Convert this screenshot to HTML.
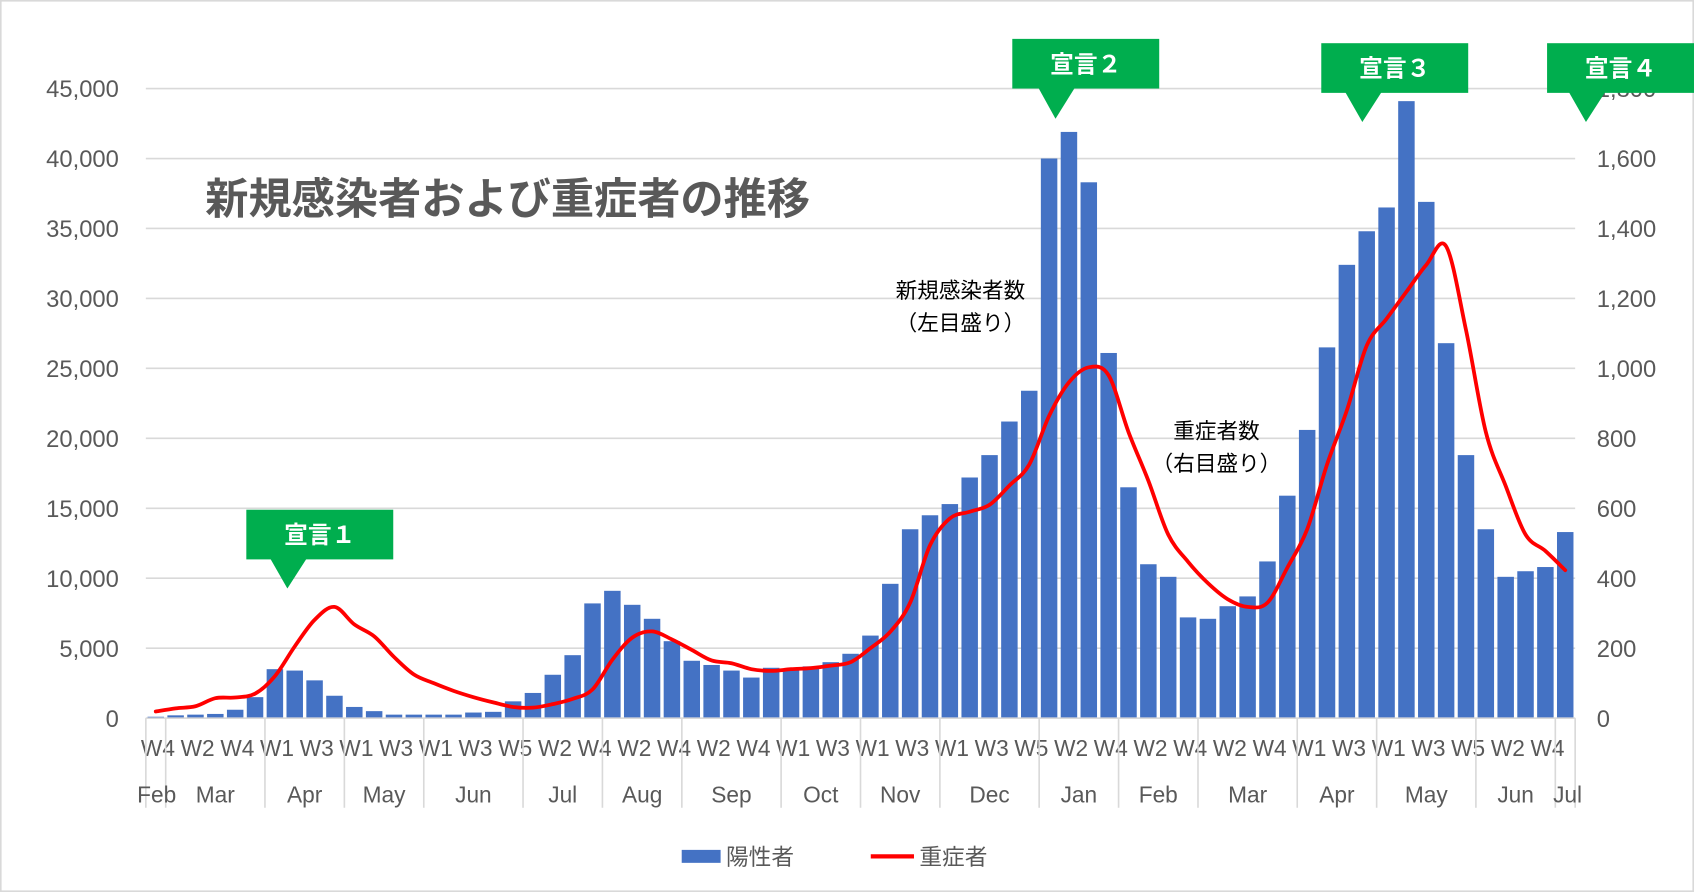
<!DOCTYPE html>
<html><head><meta charset="utf-8"><style>
html,body{margin:0;padding:0;background:#fff;}
svg{display:block;font-family:"Liberation Sans","Noto Sans CJK JP",sans-serif;}
</style></head><body>
<svg id="chart" width="1694" height="892" viewBox="0 0 1568 826" preserveAspectRatio="none" xmlns="http://www.w3.org/2000/svg">
<rect x="0.5" y="0.5" width="1567" height="825" fill="#fff" stroke="#d9d9d9" stroke-width="2"/>
<g id="grid"></g>
<g id="bars"></g>
<g id="line"></g>
<g id="axes"></g>
<text x="190" y="198" font-size="40" font-weight="bold" fill="#595959">新規感染者および重症者の推移</text>
<text x="889" y="276" font-size="20" fill="#000" text-anchor="middle">新規感染者数</text>
<text x="889" y="306" font-size="20" fill="#000" text-anchor="middle">（左目盛り）</text>
<text x="1126" y="406" font-size="20" fill="#000" text-anchor="middle">重症者数</text>
<text x="1126" y="436" font-size="20" fill="#000" text-anchor="middle">（右目盛り）</text>
<g id="callouts"></g>
<g>
<rect x="631" y="787" width="36" height="12" fill="#4472c4"/>
<text x="672" y="801" font-size="21" fill="#595959">陽性者</text>
<line x1="806" y1="793" x2="846" y2="793" stroke="#ff0000" stroke-width="4"/>
<text x="851" y="801" font-size="21" fill="#595959">重症者</text>
</g>
</svg>
<script>
const weekLabels=["W4","W1","W2","W3","W4","W5","W1","W2","W3","W4","W1","W2","W3","W4","W1","W2","W3","W4","W5","W1","W2","W3","W4","W1","W2","W3","W4","W1","W2","W3","W4","W5","W1","W2","W3","W4","W1","W2","W3","W4","W1","W2","W3","W4","W5","W1","W2","W3","W4","W1","W2","W3","W4","W1","W2","W3","W4","W5","W1","W2","W3","W4","W1","W2","W3","W4","W5","W1","W2","W3","W4","W1"];
const months=["Feb","Mar","Apr","May","Jun","Jul","Aug","Sep","Oct","Nov","Dec","Jan","Feb","Mar","Apr","May","Jun","Jul"];
const monthWeeks=[1,5,4,4,5,4,4,5,4,4,5,4,4,5,4,5,4,1];
const cases=[100,200,250,300,600,1500,3500,3400,2700,1600,800,500,250,250,250,250,400,450,1200,1800,3100,4500,8200,9100,8100,7100,5500,4100,3800,3400,2900,3600,3500,3700,4000,4600,5900,9600,13500,14500,15300,17200,18800,21200,23400,40000,41900,38300,26100,16500,11000,10100,7200,7100,8000,8700,11200,15900,20600,26500,32400,34800,36500,44100,36900,26800,18800,13500,10100,10500,10800,13300];
const severe=[19,28,34,57,59,70,120,205,281,318,268,234,175,125,100,78,60,45,32,30,40,55,82,167,230,248,225,195,165,157,140,135,140,143,150,160,200,247,330,494,571,590,610,665,725,864,960,1003,980,818,679,525,447,386,340,318,330,430,540,725,880,1065,1142,1219,1296,1349,1110,818,664,525,478,423];
const leftTicks=[0,5000,10000,15000,20000,25000,30000,35000,40000,45000];
const rightTicks=[0,200,400,600,800,1000,1200,1400,1600,1800];
const callouts=[["宣言１",228,472,266,545],["宣言２",937,36,977,110],["宣言３",1223,40,1261,113],["宣言４",1432,40,1468,113]];

const NS="http://www.w3.org/2000/svg";
const X0=135,X1=1458,Y0=665,YT=82;
const n=cases.length, step=(X1-X0)/n;
const xC=i=>X0+step*(i+0.5);
const yL=v=>Y0-(v/45000)*(Y0-YT);
const yR=v=>Y0-(v/1800)*(Y0-YT);
function mk(tag,attrs,parent,text){const e=document.createElementNS(NS,tag);for(const k in attrs)e.setAttribute(k,attrs[k]);if(text!==undefined)e.textContent=text;parent.appendChild(e);return e;}
const grid=document.getElementById('grid'),bars=document.getElementById('bars'),line=document.getElementById('line'),axes=document.getElementById('axes'),co=document.getElementById('callouts');
leftTicks.forEach((v,i)=>{
  const g=mk('line',{x1:X0,x2:X1,y1:yL(v),y2:yL(v),stroke:'#d9d9d9','stroke-width':1.5},grid);
  
  
  const t=mk('text',{x:110,y:yL(v)+8,'font-size':22,fill:'#595959','text-anchor':'end'},axes,v.toLocaleString('en-US'));
  
  
});
rightTicks.forEach(v=>{
  const t=mk('text',{x:1478,y:yR(v)+8,'font-size':22,fill:'#595959'},axes,v.toLocaleString('en-US'));
  
  
});
cases.forEach((v,i)=>{
  const bw=step*0.83;
  const r=mk('rect',{x:xC(i)-bw/2,y:yL(v),width:bw,height:Y0-yL(v),fill:'#4472c4'},bars);
  
  
});
// smooth line (Catmull-Rom)
const pts=severe.map((v,i)=>[xC(i),yR(v)]);
let d=`M${pts[0][0]},${pts[0][1]}`;
for(let i=0;i<pts.length-1;i++){const p0=pts[Math.max(0,i-1)],p1=pts[i],p2=pts[i+1],p3=pts[Math.min(pts.length-1,i+2)];
d+=` C${p1[0]+(p2[0]-p0[0])/6},${p1[1]+(p2[1]-p0[1])/6} ${p2[0]-(p3[0]-p1[0])/6},${p2[1]-(p3[1]-p1[1])/6} ${p2[0]},${p2[1]}`;}
const pl=mk('path',{d:d,fill:'none',stroke:'#ff0000','stroke-width':3.5,'stroke-linejoin':'round','stroke-linecap':'round'},line);


// axis line
const ax=mk('line',{x1:X0,x2:X1,y1:Y0,y2:Y0,stroke:'#d9d9d9','stroke-width':1.5},axes);


weekLabels.forEach((w,i)=>{ if(i%2) return;
  const t=mk('text',{x:xC(i)+2,y:700,'font-size':21,fill:'#595959','text-anchor':'middle'},axes,w);
  
  
});
let acc=0;
const sep0=mk('line',{x1:X0,x2:X0,y1:Y0,y2:748,stroke:'#d9d9d9','stroke-width':1.5},axes);


months.forEach((m,k)=>{
  const s=X0+acc*step; acc+=monthWeeks[k]; const e=X0+acc*step;
  const sp=mk('line',{x1:e,x2:e,y1:Y0,y2:748,stroke:'#d9d9d9','stroke-width':1.5},axes);
  
  
  let cx=(s+e)/2; if(k===0) cx=s+10; if(k===months.length-1) cx=e-7;
  const t=mk('text',{x:cx,y:743,'font-size':21,fill:'#595959','text-anchor':'middle'},axes,m);
  
  
});
callouts.forEach(c=>{
  const [lab,x,y,tx,ty]=c;
  const g=mk('g',{},co);
  
  
  mk('rect',{x:x,y:y,width:136,height:46,fill:'#00ae4e'},g);
  mk('polygon',{points:`${tx-16},${y+45} ${tx+18},${y+45} ${tx},${ty}`,fill:'#00ae4e'},g);
  mk('text',{x:x+68,y:y+31,'font-size':22,'font-weight':'bold',fill:'#fff','text-anchor':'middle'},g,lab);
});
</script>
</body></html>
